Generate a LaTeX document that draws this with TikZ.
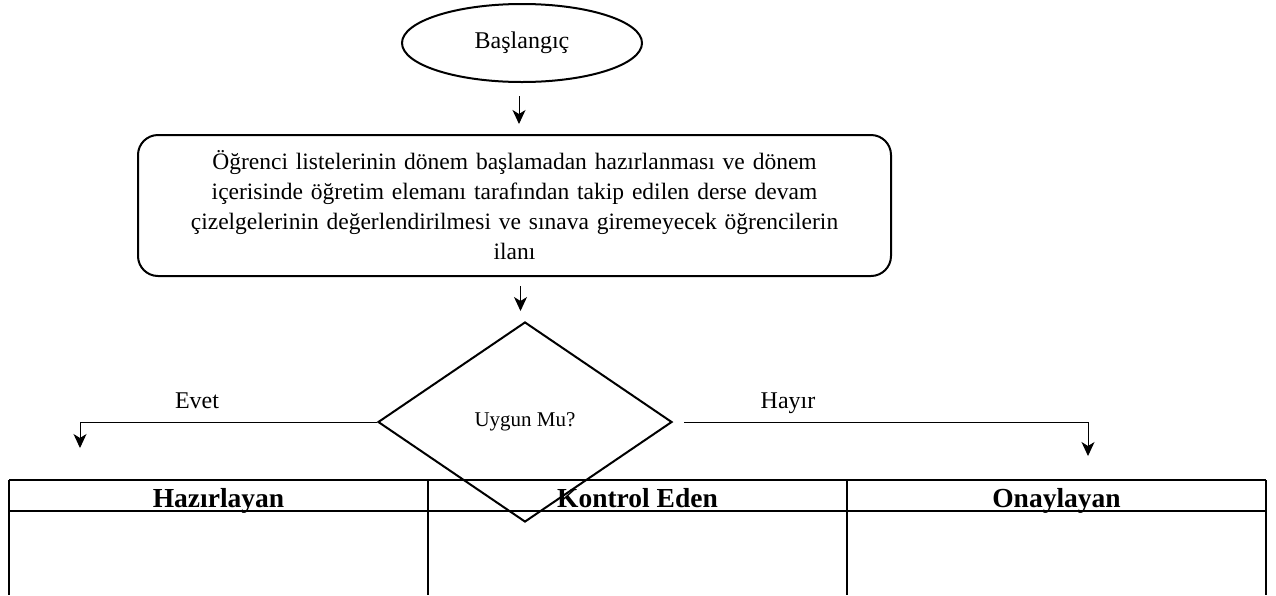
\documentclass[tikz,border=0pt]{standalone}
\usepackage{fontspec}
\setmainfont{Liberation Serif}
\usetikzlibrary{positioning,shapes.geometric,arrows.meta}

\tikzset{
  flowarrow/.style={-{Stealth[length=14pt,width=13pt,inset=4pt]}, line width=1pt},
  thickline/.style={line width=2pt},
  headtext/.style={anchor=base, font=\bfseries\fontsize{27.5}{30}\selectfont},
}

\begin{document}
\begin{tikzpicture}[x=1pt,y=-1pt]
\useasboundingbox (0,0) rectangle (1276,595);
\node[ellipse, draw, thickline, minimum width=240pt, minimum height=78pt, inner sep=0pt, font=\fontsize{24}{28}\selectfont] (start) at (522,43) {Başlangıç};
\node[draw, thickline, rounded corners=20pt, minimum width=753pt, minimum height=141pt, text width=720pt, align=center, font=\fontsize{23.5}{30}\selectfont] (task) at (514.5,205.5) {Öğrenci listelerinin dönem başlamadan hazırlanması ve dönem\\ içerisinde öğretim elemanı tarafından takip edilen derse devam\\ çizelgelerinin değerlendirilmesi ve sınava giremeyecek öğrencilerin\\ ilanı};
\node[diamond, draw, thickline, minimum width=294pt, minimum height=200pt, inner sep=0pt, font=\fontsize{21}{24}\selectfont] (check) at (525,422) {Uygun Mu?};
\coordinate (yesend) at (80,448);
\coordinate (noend) at (1088,456);
\draw[flowarrow, shorten <=13pt, shorten >=10pt] (start.south) ++(-3,0) coordinate (startout) (startout) -- (task.north -| startout);
\draw[flowarrow, shorten <=9pt, shorten >=10pt] (task.south) ++(6,0) coordinate (taskout) (taskout) -- (check.north -| taskout);
\draw[flowarrow] (check.west) -| (yesend);
\draw[flowarrow, shorten <=11pt] (check.east) -| (noend);
\node[anchor=base, font=\fontsize{24}{28}\selectfont] (yes) at (197,408) {Evet};
\node[anchor=base, font=\fontsize{24}{28}\selectfont] (no) at (788,408) {Hayır};
% imza tablosu
\draw[thickline] (9,480) -- (1266,480);
\draw[thickline] (9,511) -- (1266,511);
\foreach \x in {9,428,847,1266}
  \draw[thickline] (\x,480) -- (\x,595);
\node[headtext] (prep) at (218.5,507) {Hazırlayan};
\node[headtext] (ctrl) at (637.5,507) {Kontrol Eden};
\node[headtext] (appr) at (1056.5,507) {Onaylayan};
\end{tikzpicture}
\end{document}
